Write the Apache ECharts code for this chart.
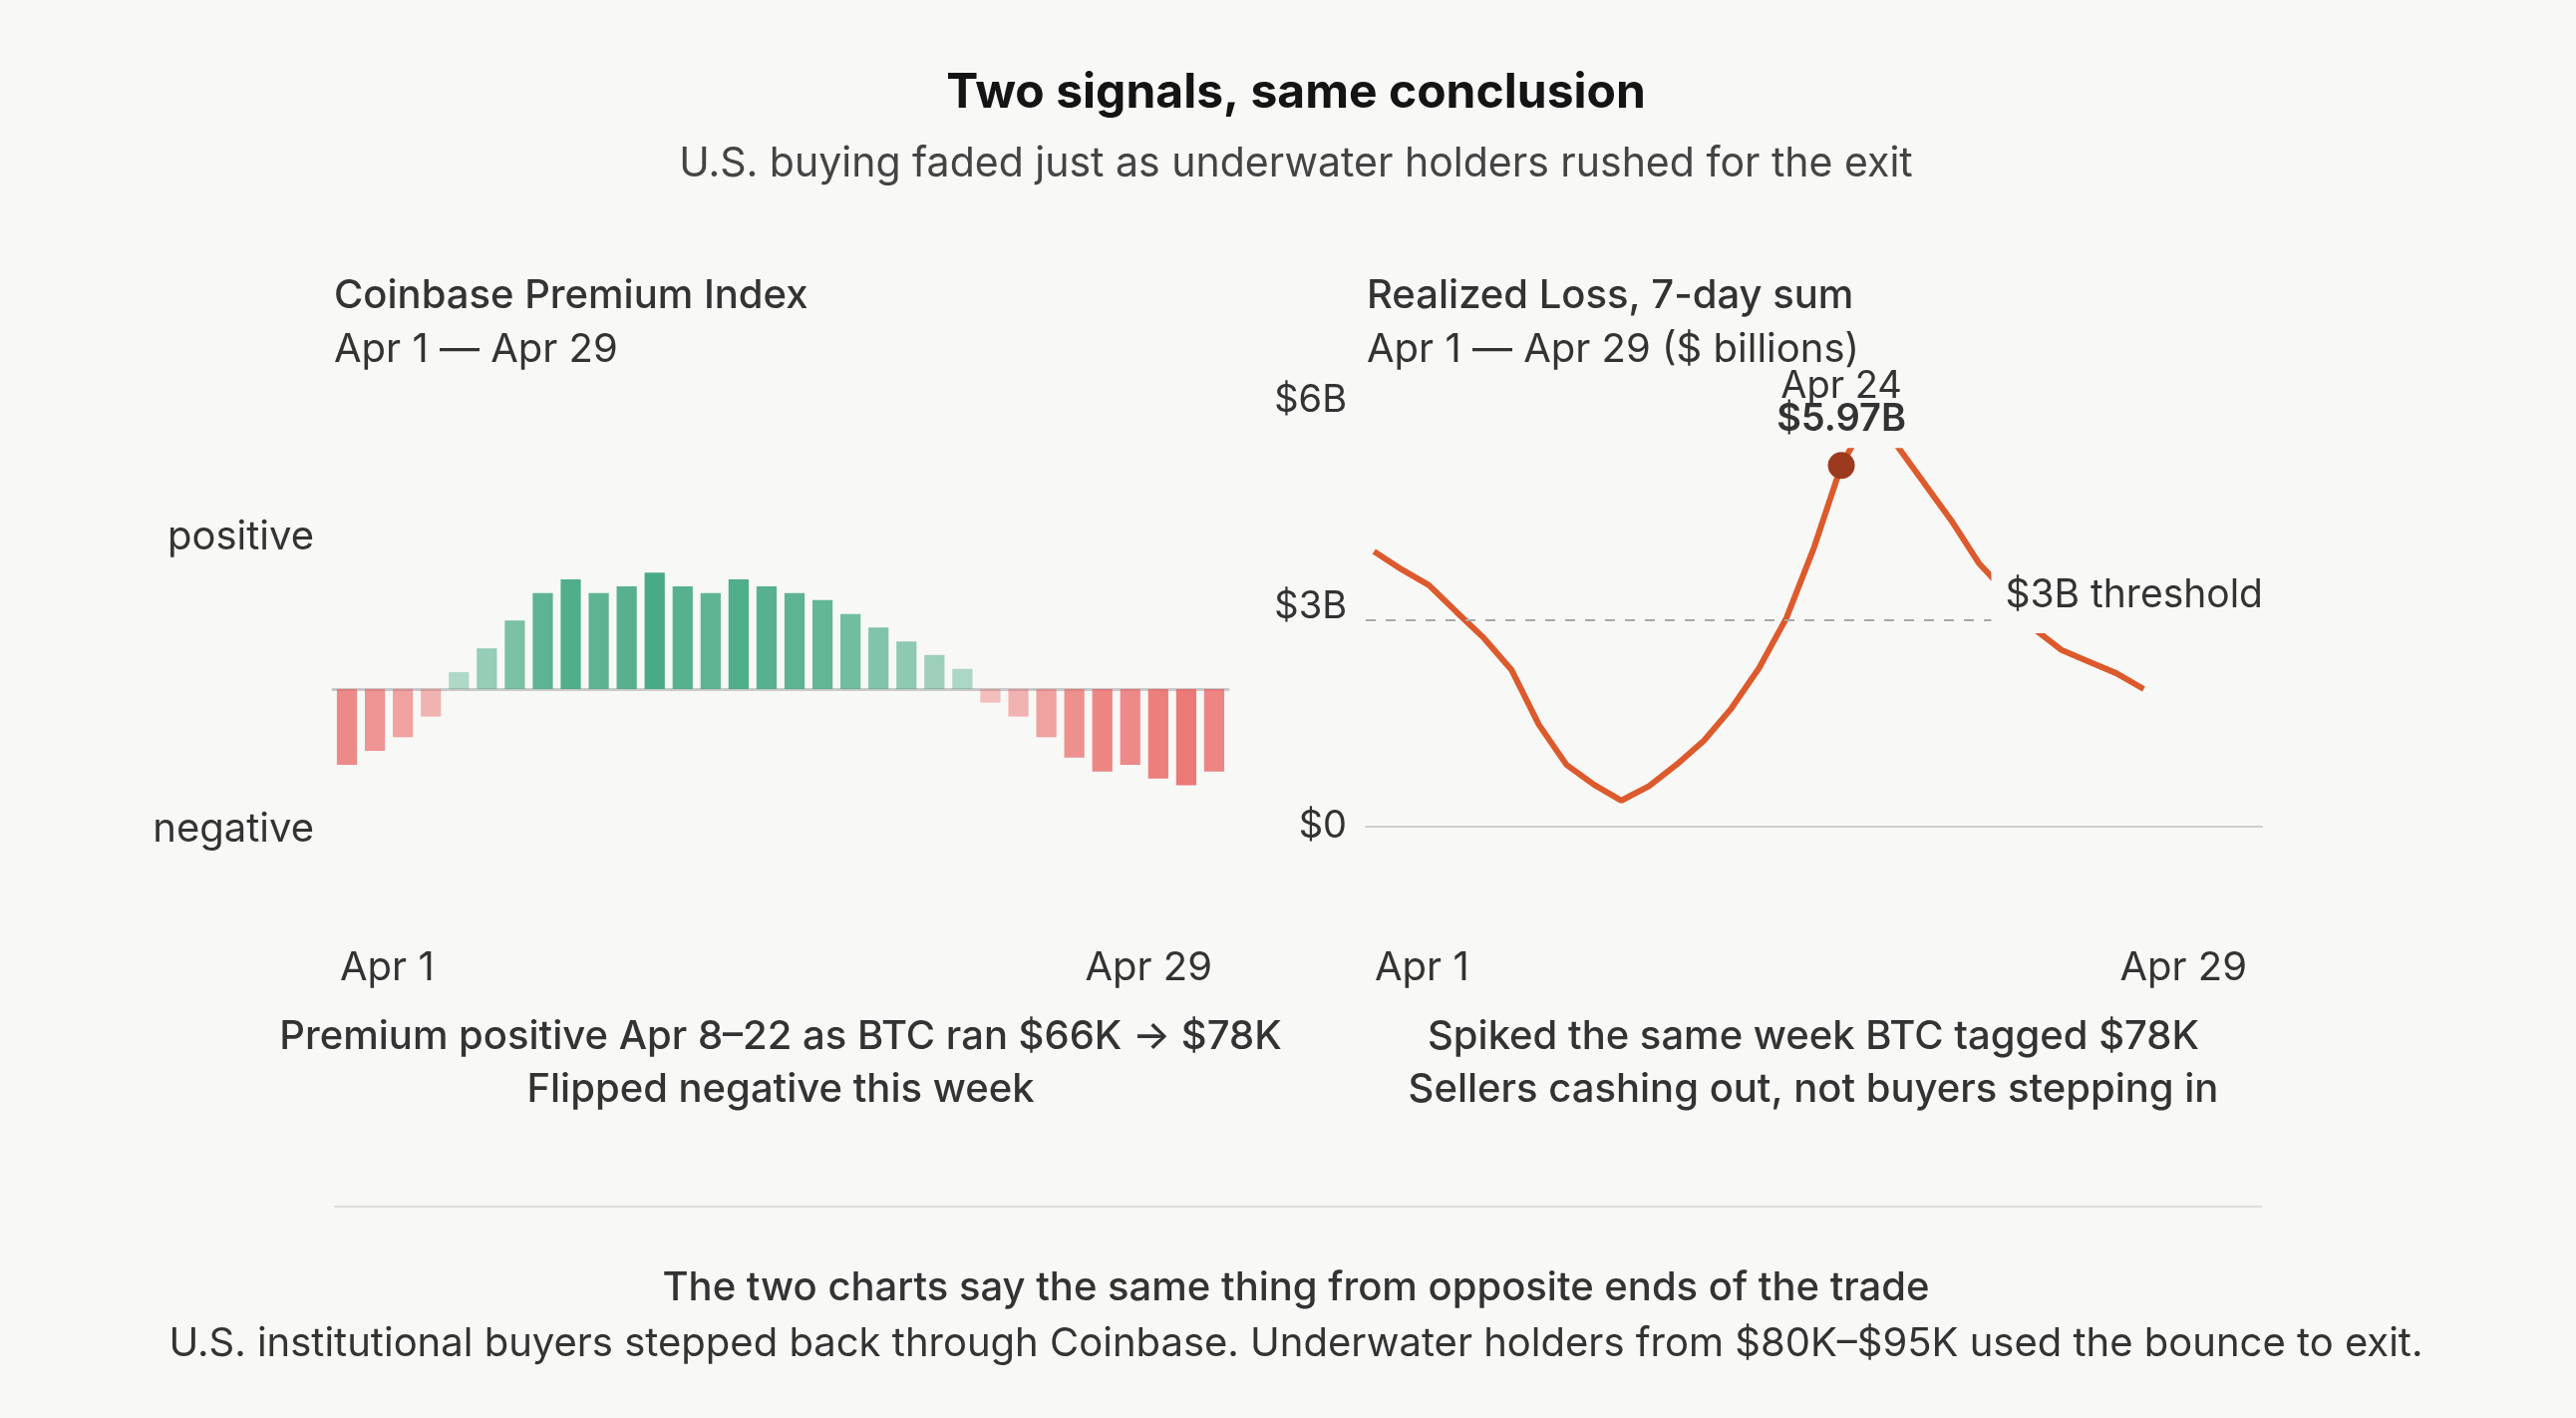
<!DOCTYPE html>
<html lang="en">
<head>
    <meta charset="UTF-8">
    <title>Two signals, same conclusion</title>
    <script src="https://cdn.jsdelivr.net/npm/echarts@6.0.0/dist/echarts.min.js"></script>
    <style>
        html, body { margin: 0; padding: 0; background: #f8f8f6; }
    </style>
</head>
<body>
    <div id="main" style="width: 2584px;height:1422px;"></div>

    <script>
        // Coinbase premium, one bar per day (relative units, axis hidden)
        var premiumDays = [];
        for (var d = 1; d <= 32; d++) premiumDays.push('d' + d);
        var premiumValues = [-2.29, -1.87, -1.45, -0.83, 0.51, 1.23, 2.07, 2.90, 3.31, 2.90, 3.10, 3.52,
            3.10, 2.90, 3.31, 3.10, 2.90, 2.69, 2.27, 1.86, 1.44, 1.03, 0.61, -0.41,
            -0.83, -1.45, -2.07, -2.49, -2.29, -2.70, -2.91, -2.49];

        // realized loss, 7-day sum, $ billions
        var lossDays = [1, 2, 3, 4, 5, 6, 7, 8, 9, 10, 11, 12, 13, 14, 15, 16, 17, 18, 19, 20,
            21, 22, 23, 24, 25, 26, 27, 28, 29];
        var lossValues = [4.00, 3.74, 3.51, 3.12, 2.74, 2.28, 1.48, 0.90, 0.61, 0.38, 0.59, 0.90,
            1.25, 1.72, 2.30, 3.03, 4.05, 5.25, 5.97, 5.55, 5.00, 4.45, 3.83, 3.40,
            2.88, 2.57, 2.40, 2.23, 2.00];
        var lossTicks = [0, 3, 6];
        var threshold = 3;
        var markIdx = 17;
        var markText = ['Apr 24', '$5.97B'];

        var edgeLabels = ['Apr 1', 'Apr 29'];

        var FONT = 'Inter, "Noto Sans", sans-serif';
        var BG = '#f8f8f6';
        var GREEN = [63, 166, 126];
        var RED = [232, 96, 94];

        var maxAbs = Math.max.apply(null, premiumValues.map(Math.abs));
        var barData = premiumValues.map(function (v) {
            var c = v >= 0 ? GREEN : RED;
            var a = 0.3 + 0.65 * Math.abs(v) / maxAbs;
            return { value: v, itemStyle: { color: 'rgba(' + c.join(',') + ',' + a.toFixed(2) + ')' } };
        });
        var lineData = lossDays.map(function (d, i) { return [d, lossValues[i]]; });

        function txt(text, x, y, size, weight, color, align) {
            return {
                type: 'text', silent: true,
                style: {
                    text: text, x: x, y: y, fill: color || '#333',
                    font: (weight || 400) + ' ' + size + 'px ' + FONT,
                    align: align || 'left', verticalAlign: 'middle'
                }
            };
        }

        var myChart = echarts.init(document.getElementById('main'));
        var option = {
            backgroundColor: BG,
            animation: false,
            textStyle: { fontFamily: FONT },
            grid: [
                { left: 334, width: 898, top: 525, height: 332 },
                { left: 1370, right: 315, top: 415, height: 414 }
            ],
            xAxis: [
                {
                    type: 'category', gridIndex: 0, data: premiumDays,
                    axisLine: { lineStyle: { color: '#c9c9c9', width: 3 } },
                    axisTick: { show: false }, axisLabel: { show: false }
                },
                {
                    type: 'value', gridIndex: 1, min: 0.7, max: 33.3,
                    axisLine: { show: true, lineStyle: { color: '#cfcfcf', width: 2 } },
                    axisTick: { show: false }, axisLabel: { show: false }, splitLine: { show: false }
                }
            ],
            yAxis: [
                { type: 'value', gridIndex: 0, min: -5, max: 5, show: false },
                {
                    type: 'value', gridIndex: 1, min: 0, max: 6, interval: 3,
                    axisLine: { show: false }, axisTick: { show: false }, splitLine: { show: false },
                    axisLabel: {
                        margin: 19, fontSize: 38, color: '#333',
                        formatter: function (v) {
                            if (lossTicks.indexOf(v) < 0) return '';
                            return v === 0 ? '{z|$0}' : '{u|$' + v + 'B}';
                        },
                        rich: {
                            z: { fontSize: 38, color: '#333', fontFamily: FONT },
                            u: { fontSize: 38, color: '#333', fontFamily: FONT, padding: [0, 0, 26, 0] }
                        }
                    }
                }
            ],
            series: [
                {
                    type: 'bar', xAxisIndex: 0, yAxisIndex: 0,
                    data: barData, barWidth: '72%'
                },
                {
                    type: 'line', xAxisIndex: 1, yAxisIndex: 1,
                    data: lineData, symbol: 'none', smooth: false,
                    lineStyle: { color: '#dd5a2c', width: 6 },
                    markLine: {
                        silent: true, symbol: 'none',
                        lineStyle: { type: [10, 10], color: '#a8a8a8', width: 2 },
                        data: [{ yAxis: threshold }],
                        label: {
                            position: 'insideEndTop', distance: -13,
                            formatter: '$3B threshold', fontSize: 39, color: '#333',
                            backgroundColor: BG, padding: [14, 12, 18, 14]
                        }
                    },
                    markPoint: {
                        silent: true, symbol: 'circle', symbolSize: 27,
                        itemStyle: { color: '#9c3a1f' },
                        data: [{ coord: [lossDays[markIdx], lossValues[markIdx]] }],
                        label: {
                            show: true, position: 'top', distance: 4,
                            formatter: markText[0] + '\n{b|' + markText[1] + '}',
                            fontSize: 38, lineHeight: 33, color: '#333',
                            backgroundColor: BG, padding: [0, 8, 12, 8],
                            rich: { b: { fontSize: 38, lineHeight: 33, fontWeight: 600, color: '#333', fontFamily: FONT } }
                        }
                    }
                }
            ],
            graphic: [
                txt('Two signals, same conclusion', 1300, 94, 48, 700, '#141414', 'center'),
                txt('U.S. buying faded just as underwater holders rushed for the exit', 1300, 165, 41, 400, '#444', 'center'),

                txt('Coinbase Premium Index', 335, 297, 40, 500, '#333'),
                txt('Apr 1 \u2014 Apr 29', 335, 351, 40, 400, '#333'),
                txt('positive', 315, 539, 40, 400, '#333', 'right'),
                txt('negative', 315, 832, 40, 400, '#333', 'right'),
                txt(edgeLabels[0], 341, 971, 40, 400, '#333'),
                txt(edgeLabels[1], 1216, 971, 40, 400, '#333', 'right'),
                txt('Premium positive Apr 8\u201322 as BTC ran $66K \u2192 $78K', 783, 1040, 40, 500, '#333', 'center'),
                txt('Flipped negative this week', 783, 1093, 40, 500, '#333', 'center'),

                txt('Realized Loss, 7-day sum', 1371, 297, 40, 500, '#333'),
                txt('Apr 1 \u2014 Apr 29 ($ billions)', 1371, 351, 40, 400, '#333'),
                txt(edgeLabels[0], 1379, 971, 40, 400, '#333'),
                txt(edgeLabels[1], 2254, 971, 40, 400, '#333', 'right'),
                txt('Spiked the same week BTC tagged $78K', 1819, 1040, 40, 500, '#333', 'center'),
                txt('Sellers cashing out, not buyers stepping in', 1819, 1093, 40, 500, '#333', 'center'),

                {
                    type: 'line', silent: true,
                    shape: { x1: 335, y1: 1210, x2: 2269, y2: 1210 },
                    style: { stroke: '#dcdcdc', lineWidth: 2 }
                },
                txt('The two charts say the same thing from opposite ends of the trade', 1300, 1292, 40, 500, '#333', 'center'),
                txt('U.S. institutional buyers stepped back through Coinbase. Underwater holders from $80K\u2013$95K used the bounce to exit.', 1300, 1348, 40, 400, '#333', 'center')
            ]
        };

        myChart.setOption(option);
    </script>
</body>
</html>
